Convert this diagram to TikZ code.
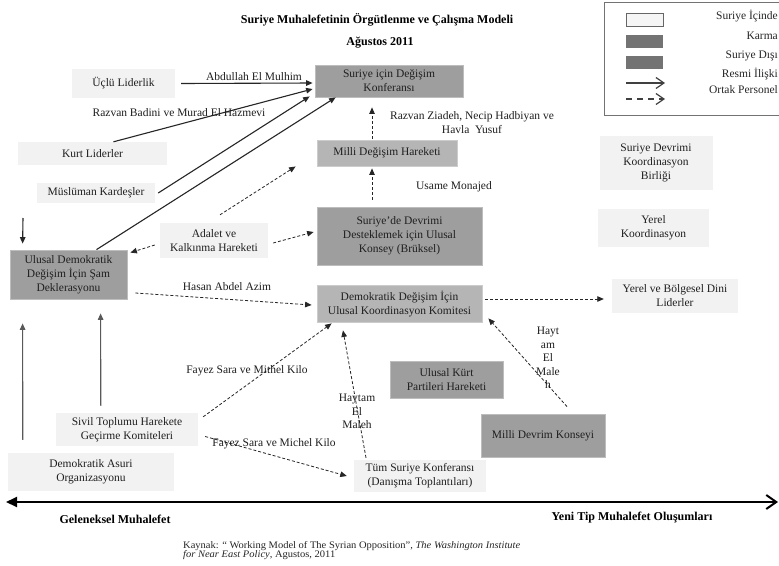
\documentclass[tikz,border=0pt]{standalone}
\usepackage{fontspec}
\setmainfont{Liberation Serif}
\usetikzlibrary{arrows.meta}
\newcommand\nodefont{\fontsize{11.5}{14}\selectfont}
\newcommand\titlefont{\fontsize{12}{14}\selectfont\bfseries}
\begin{document}
\begin{tikzpicture}[x=1pt,y=-1pt,
  box/.style={rectangle, inner sep=0pt, align=center, text=black!88, font=\nodefont},
  lightbox/.style={box, fill=black!5},
  darkbox/.style={box, fill=black!38, draw=black!26, line width=0.8pt},
  midbox/.style={box, fill=black!29, draw=black!20, line width=0.8pt},
  lbl/.style={inner sep=0pt, align=center, text=black!88, font=\nodefont},
  tip/.style={-{Triangle[length=6.5pt,width=5.5pt]}},
  solidarr/.style={draw=black!85, line width=1.1pt, tip},
  dasharr/.style={draw=black!85, line width=0.8pt, dash pattern=on 3pt off 2pt, tip},
  grayarr/.style={draw=black!65, line width=1.1pt, tip},
  legtxt/.style={anchor=east, inner sep=0pt, text=black!85, font=\nodefont},
]
\useasboundingbox (0,0) rectangle (779,565);
\clip (0,0) rectangle (779,565);
\fill[white] (0,0) rectangle (779,565);

% title
\node[font=\titlefont] (title) at (377,20) {Suriye Muhalefetinin Örgütlenme ve Çalışma Modeli};
\node[font=\titlefont] (date) at (380,43) {Ağustos 2011};

% legend
\draw[black!55, line width=0.8pt] (604,2) rectangle (800,115);
\node[rectangle, draw=black!60, fill=black!4, line width=0.8pt, minimum width=37, minimum height=13, inner sep=0pt] (lg1) at (644.5,19.5) {};
\node[rectangle, fill=black!55, minimum width=37, minimum height=13, inner sep=0pt] (lg2) at (644.5,41.5) {};
\node[rectangle, fill=black!55, minimum width=37, minimum height=13, inner sep=0pt] (lg3) at (644.5,62.5) {};
\coordinate (lga1) at (626,83); \coordinate (lgb1) at (665,83);
\coordinate (lga2) at (626,99); \coordinate (lgb2) at (665,99);
\draw[black!75, line width=1.2pt, -{Straight Barb[length=8pt,width=11pt]}] (lga1) -- (lgb1);
\draw[black!75, line width=1.2pt, dash pattern=on 6pt off 5pt, -{Straight Barb[length=8pt,width=11pt]}] (lga2) -- (lgb2);
\node[legtxt] (lt1) at (778,16) {Suriye İçinde};
\node[legtxt] (lt2) at (778,36) {Karma};
\node[legtxt] (lt3) at (778,56) {Suriye Dışı};
\node[legtxt] (lt4) at (778,74) {Resmi İlişki};
\node[legtxt] (lt5) at (778,90) {Ortak Personel};

% nodes
\node[lightbox, minimum width=103, minimum height=29] (ucl) at (123.5,83.5) {Üçlü Liderlik};
\node[darkbox, minimum width=148, minimum height=32] (konf) at (389,81) {Suriye için Değişim\\Konferansı};
\node[lightbox, minimum width=149, minimum height=23] (kurt) at (92.5,153.5) {Kurt Liderler};
\node[midbox, minimum width=140, minimum height=26] (milli) at (387,153) {Milli Değişim Hareketi};
\node[lightbox, minimum width=118, minimum height=20] (mus) at (96,193) {Müslüman Kardeşler};
\node[lightbox, minimum width=113, minimum height=54] (sdkb) at (656,163) {Suriye Devrimi\\Koordinasyon\\Birliği};
\node[lightbox, minimum width=111, minimum height=38] (yerel) at (653.5,228) {Yerel\\Koordinasyon};
\node[darkbox, minimum width=165, minimum height=58] (bruk) at (399.5,236) {Suriye’de Devrimi\\Desteklemek için Ulusal\\Konsey (Brüksel)};
\node[lightbox, minimum width=108, minimum height=35] (adalet) at (214,240.5) {Adalet ve\\Kalkınma Hareketi};
\node[darkbox, minimum width=117, minimum height=49] (sam) at (68.5,274.5) {Ulusal Demokratik\\Değişim İçin Şam\\Deklerasyonu};
\node[midbox, minimum width=165, minimum height=37] (komite) at (399.5,303.5) {Demokratik Değişim İçin\\Ulusal Koordinasyon Komitesi};
\node[lightbox, minimum width=126, minimum height=34] (dini) at (675,296) {Yerel ve Bölgesel Dini\\Liderler};
\node[darkbox, minimum width=113, minimum height=37] (kpart) at (446.5,379.5) {Ulusal Kürt\\Partileri Hareketi};
\node[darkbox, minimum width=124, minimum height=43] (mdk) at (543,435.5) {Milli Devrim Konseyi};
\node[lightbox, minimum width=142, minimum height=33] (sivil) at (127,429.5) {Sivil Toplumu Harekete\\Geçirme Komiteleri};
\node[lightbox, minimum width=166, minimum height=38] (asuri) at (91,472) {Demokratik Asuri\\Organizasyonu};
\node[lightbox, minimum width=132, minimum height=32] (tum) at (420,476) {Tüm Suriye Konferansı\\(Danışma Toplantıları)};

% connectors
\draw[solidarr] ([xshift=6pt]ucl.east) -- ([xshift=-2pt,yshift=-2pt]konf.west);
\draw[solidarr] ([xshift=21pt]kurt.north) -- ([xshift=-2pt,yshift=-8pt]konf.west);
\draw[solidarr] ([xshift=3pt]mus.east) -- ([xshift=-5pt,yshift=1pt]konf.south west);
\draw[solidarr] ([xshift=28pt]sam.north) -- ([xshift=21pt]konf.south west);
\draw[dasharr, shorten >=25pt] ([xshift=6pt,yshift=8pt]adalet.north) -- (milli.west);
\draw[dasharr] ([xshift=-5pt,yshift=-4.5pt]adalet.west) -- ([xshift=3pt,yshift=-3pt]sam.north east);
\draw[dasharr] ([xshift=5pt,yshift=-2.5pt]adalet.east) -- ([xshift=-3pt,yshift=4pt]bruk.west);
\draw[dasharr] ([xshift=-15pt,yshift=1pt]milli.north) -- ([xshift=-17pt,yshift=-10pt]konf.south);
\draw[dasharr] ([xshift=-27.5pt,yshift=7pt]bruk.north) -- ([xshift=-15pt,yshift=-2pt]milli.south);
\draw[dasharr] ([xshift=8pt,yshift=-18.5pt]sam.east) -- ([xshift=-5pt,yshift=-1.5pt]komite.west);
\draw[dasharr] ([xshift=3pt,yshift=4.5pt]komite.east) -- ([xshift=-8pt,yshift=-3pt]dini.west);
\draw[dasharr] ([xshift=24pt,yshift=7pt]mdk.north) -- ([xshift=6pt,yshift=4pt]komite.south east);
\draw[dasharr] ([xshift=-54pt,yshift=2pt]tum.north) -- ([xshift=-56.5pt,yshift=-8pt]komite.south);
\draw[dasharr] ([xshift=5pt,yshift=-4pt]sivil.north east) -- ([xshift=15pt,yshift=-1pt]komite.south west);
\draw[dasharr] ([xshift=7pt,yshift=-7pt]sivil.east) -- ([xshift=-7pt]tum.west);
\coordinate (topin) at (23,218);
\draw[solidarr] (topin) -- ([xshift=13pt,yshift=6pt]sam.north west);
\draw[grayarr] ([xshift=15pt,yshift=13pt]asuri.north west) -- ([xshift=13pt,yshift=-24pt]sam.south west);
\draw[grayarr] ([xshift=45pt,yshift=7pt]sivil.north west) -- ([xshift=91pt,yshift=-14pt]sam.south west);

% connector labels
\node[lbl] (l1) at (254,77) {Abdullah El Mulhim};
\node[lbl] (l2) at (179,113) {Razvan Badini ve Murad El Hazmevi};
\node[lbl] (l3) at (472,123) {Razvan Ziadeh, Necip Hadbiyan ve\\Havla\ \ Yusuf};
\node[lbl] (l4) at (454,187) {Usame Monajed};
\node[lbl] (l5) at (227,287) {Hasan Abdel Azim};
\node[lbl] (l6) at (247,371) {Fayez Sara ve Mithel Kilo};
\node[lbl] (l7) at (274,444) {Fayez Sara ve Michel Kilo};
\node[lbl, font=\fontsize{11.5}{13.5}\selectfont] (l8) at (357,411.5) {Haytam\\El\\Maleh};
\node[lbl, font=\fontsize{11.5}{13.5}\selectfont] (l9) at (548,358) {Hayt\\am\\El\\Male\\h};

% axis
\coordinate (axL) at (6,502);
\coordinate (axR) at (778,502);
\draw[black, line width=2pt, {Triangle[length=11pt,width=10pt]}-{Straight Barb[length=10pt,width=14pt]}] (axL) -- (axR);
\node[font=\titlefont] (gel) at (115,519) {Geleneksel Muhalefet};
\node[font=\titlefont] (yeni) at (632,518) {Yeni Tip Muhalefet Oluşumları};

% source
\node[anchor=north west, inner sep=0pt, text=black!85, font=\fontsize{10}{10}\selectfont] (src) at (183,541) {\scalebox{1.05}[1]{\begin{tabular}{@{}l@{}}Kaynak: “ Working Model of The Syrian Opposition”, \textit{The Washington Institute}\\[-1pt]\textit{for Near East Policy}, Agustos, 2011\end{tabular}}};
\end{tikzpicture}
\end{document}
